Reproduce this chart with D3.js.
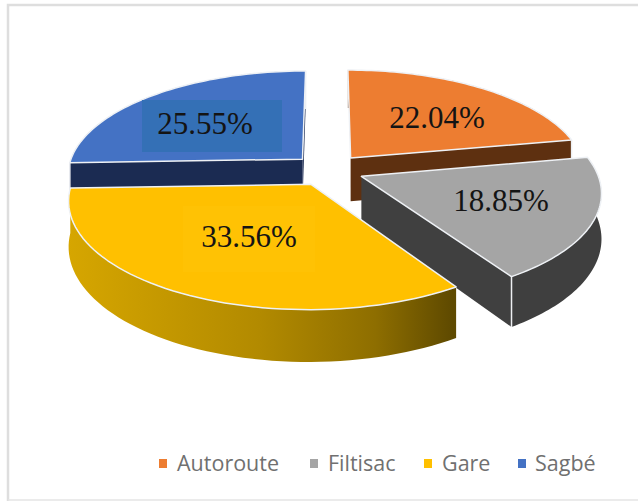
<!DOCTYPE html>
<html>
<head>
<meta charset="utf-8">
<script src="https://cdn.jsdelivr.net/npm/d3@7/dist/d3.min.js"></script>
<style>
  html, body { margin: 0; padding: 0; background: #fff; }
  svg { display: block; }
</style>
</head>
<body>
<svg id="chart" width="638" height="501"></svg>
<script>
// Share of each site, in percent
const categories = ["Autoroute", "Filtisac", "Gare", "Sagbé"];
const shares = [22.04, 18.85, 33.56, 25.55];
const shareLabels = ["22.04%", "18.85%", "33.56%", "25.55%"];

// Colours per site: top face, cut face, outer wall
const topColors = ["#ED7D31", "#A5A5A5", "#FFC000", "#4472C4"];
const cutColors = ["#5E3010", "#404040", "#7F6000", "#1B2B52"];
const wallColors = ["#5E3010", "#3F3F3F", "url(#gareWall)", "#1B2B52"];

// Painting order, back to front
const paintOrder = [3, 0, 1, 2];

// Label anchors on the picture plane (centre x, baseline y)
const labelAnchors = [[437, 128], [501, 211], [249, 247], [205, 134]];

const width = 638, height = 501;
const cx = 328, cy = 170;        // pie centre
const radius = 235;              // disc radius in ground units
const explode = 36;              // distance each slice is pulled out
const tilt = 0.44;               // vertical foreshortening of the ground plane
const perspective = 0.14;        // growth of nearer points
const thickness = 44;            // extrusion height

const svg = d3.select("#chart");
const defs = svg.append("defs");

const gareGradient = defs.append("linearGradient")
  .attr("id", "gareWall")
  .attr("gradientUnits", "userSpaceOnUse")
  .attr("x1", 68).attr("x2", 452).attr("y1", 0).attr("y2", 0);
gareGradient.selectAll("stop")
  .data([[0, "#D6A600"], [0.5, "#B28A00"], [0.8, "#8E6E00"], [1, "#5F4A00"]])
  .join("stop")
  .attr("offset", d => d[0])
  .attr("stop-color", d => d[1]);

// Chart frame
svg.append("path")
  .attr("d", d3.line()([[8, height], [8, 5], [width, 5]]))
  .attr("fill", "none").attr("stroke", "#DEDEDE").attr("stroke-width", 2.5);
svg.append("line")
  .attr("x1", 8).attr("x2", width).attr("y1", 500).attr("y2", 500)
  .attr("stroke", "#E4E4E4").attr("stroke-width", 1.5);

// Ground plane (x to the right, y towards the viewer) to screen
const depthScale = d3.scaleLinear().domain([-radius, radius]).range([1 + perspective, 1 - perspective]);
function project(gx, gy, z) {
  const k = 1 / depthScale(gy);
  return [cx + gx * k, cy + (gy * tilt + z * thickness) * k];
}

const pie = d3.pie().sort(null).startAngle(0).endAngle(2 * Math.PI);
const arcs = pie(shares);
const line = d3.line();
const isNear = a => -Math.cos(a) > 0;

function rimPoint(d, angle) {
  const mid = (d.startAngle + d.endAngle) / 2;
  const ax = explode * Math.sin(mid), ay = -explode * Math.cos(mid);
  return {
    apex: [ax, ay],
    rim: [ax + radius * Math.sin(angle), ay - radius * Math.cos(angle)]
  };
}

function drawSlice(i) {
  const d = arcs[i];
  const g = svg.append("g").attr("class", "slice").attr("data-name", categories[i]);
  const steps = d3.range(0, 61).map(t => d.startAngle + (d.endAngle - d.startAngle) * t / 60);
  const rim = steps.map(a => rimPoint(d, a).rim);
  const apex = rimPoint(d, d.startAngle).apex;

  // Outer wall
  const wall = rim.map(p => project(p[0], p[1], 0))
    .concat(rim.slice().reverse().map(p => project(p[0], p[1], 1)));
  g.append("path").attr("d", line(wall) + "Z").attr("fill", wallColors[i]);

  // Cut faces that turn towards the viewer
  [[d.startAngle, d.startAngle - Math.PI / 2, rim[0]],
   [d.endAngle, d.endAngle + Math.PI / 2, rim[rim.length - 1]]]
    .filter(c => isNear(c[1]))
    .forEach(c => {
      const r = c[2];
      const face = [project(apex[0], apex[1], 0), project(r[0], r[1], 0),
                    project(r[0], r[1], 1), project(apex[0], apex[1], 1)];
      g.append("path").attr("d", line(face) + "Z").attr("fill", cutColors[i]);
      g.append("path")
        .attr("d", line([project(r[0], r[1], 0), project(r[0], r[1], 1)]))
        .attr("stroke", "#EDEFF2").attr("stroke-width", 1.5).attr("fill", "none");
    });

  // Top face
  const top = [project(apex[0], apex[1], 0)].concat(rim.map(p => project(p[0], p[1], 0)));
  g.append("path").attr("d", line(top) + "Z")
    .attr("fill", topColors[i])
    .attr("stroke", "#EEF1F5").attr("stroke-width", 1.5).attr("stroke-linejoin", "round");
}
paintOrder.forEach(drawSlice);

// Slight tone patches sitting behind two of the value labels
svg.append("rect").attr("x", 142).attr("y", 100).attr("width", 140).attr("height", 52).attr("fill", "#3470B6");
svg.append("rect").attr("x", 183).attr("y", 206).attr("width", 132).attr("height", 66).attr("fill", "#FFC204");

// Value labels
svg.append("g").selectAll("text").data(shareLabels).join("text")
  .attr("x", (d, i) => labelAnchors[i][0])
  .attr("y", (d, i) => labelAnchors[i][1])
  .attr("text-anchor", "middle")
  .attr("font-family", "'Liberation Serif', serif")
  .attr("font-size", 31)
  .attr("fill", "#141414")
  .text(d => d);

// Legend
const legendMarks = [159, 310, 424, 518];
const legendText = [177, 328, 442, 535];
const legend = svg.append("g").selectAll("g").data(categories).join("g");
legend.append("rect")
  .attr("x", (d, i) => legendMarks[i]).attr("y", 459)
  .attr("width", 8).attr("height", 9)
  .attr("fill", (d, i) => topColors[i]);
legend.append("text")
  .attr("x", (d, i) => legendText[i]).attr("y", 471)
  .attr("font-family", "'Open Sans', sans-serif")
  .attr("font-size", 21.5)
  .attr("fill", "#707070")
  .text(d => d);
</script>
</body>
</html>
